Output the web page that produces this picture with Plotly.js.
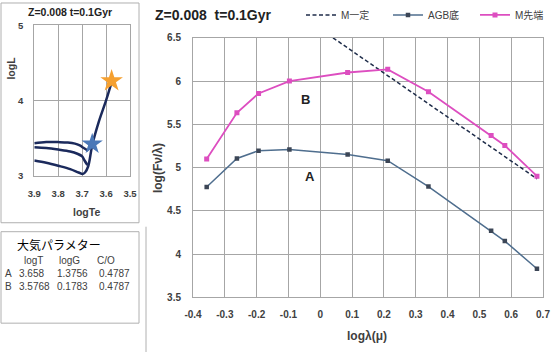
<!DOCTYPE html>
<html>
<head>
<meta charset="utf-8">
<script src="https://cdn.plot.ly/plotly-3.0.1.min.js"></script>
<style>html,body{margin:0;padding:0;background:#fff;}#chart{width:560px;height:352px;}</style>
</head>
<body>
<div id="chart"></div>
<script>
// ---- main SED chart data ----
const logLambda = [-0.357, -0.262, -0.194, -0.097, 0.086, 0.212, 0.340, 0.537, 0.580, 0.681];
const agbBase   = [4.775, 5.105, 5.195, 5.21, 5.152, 5.08, 4.78, 4.27, 4.15, 3.83];
const mTip      = [5.10, 5.633, 5.857, 6.0, 6.099, 6.135, 5.877, 5.37, 5.255, 4.90];
const mConstX   = [0.04, 0.681];
const mConstY   = [6.5, 4.87];
const seriesNames = ['M一定', 'AGB底', 'M先端'];
const xTickVals = [-0.4,-0.3,-0.2,-0.1,0,0.1,0.2,0.3,0.4,0.5,0.6,0.7];
const yTickVals = [3.5,4,4.5,5,5.5,6,6.5];

// ---- inset HR diagram data ----
const track1Te = [3.9, 3.85, 3.80, 3.76, 3.73, 3.71, 3.695, 3.675];
const track1L  = [3.43, 3.445, 3.445, 3.44, 3.425, 3.40, 3.37, 3.33];
const track2Te = [3.9, 3.85, 3.80, 3.75, 3.72, 3.70, 3.69, 3.678];
const track2L  = [3.375, 3.365, 3.345, 3.32, 3.29, 3.255, 3.20, 3.14];
const track3Te = [3.9, 3.85, 3.80, 3.75, 3.715, 3.698, 3.688, 3.675, 3.658, 3.63, 3.60, 3.577];
const track3L  = [3.20, 3.17, 3.13, 3.085, 3.04, 3.02, 3.04, 3.12, 3.40, 3.72, 4.00, 4.24];
const starA = {Te: [3.658], L: [3.42]};
const starB = {Te: [3.5768], L: [4.26]};

// ---- table ----
const tableTitle = '大気パラメター';
const tableHeader = ['logT', 'logG', 'C/O'];
const rowLabels = ['A', 'B'];
const rowLogT = ['3.658', '3.5768'];
const rowLogG = ['1.3756', '0.1783'];
const rowCO   = ['0.4787', '0.4787'];

const W = 560, H = 352;
const px = v => v / W;
const py = v => 1 - v / H;
const FONT = 'Liberation Sans, Noto Sans CJK JP, sans-serif';
const TXT = '#404040';
const GRID = '#a6a6a6';
const NAVY = '#1b2a5c';

const traces = [
  {x: mConstX, y: mConstY, name: seriesNames[0], mode: 'lines', type: 'scatter', legend: 'legend',
   line: {color: '#1f2d4a', width: 1.5, dash: '4px,2.5px'}, xaxis: 'x', yaxis: 'y'},
  {x: logLambda, y: agbBase, name: seriesNames[1], mode: 'lines+markers', type: 'scatter', legend: 'legend2',
   line: {color: '#4f6e8e', width: 1.5}, marker: {symbol: 'square', size: 4.5, color: '#3c4656'},
   xaxis: 'x', yaxis: 'y'},
  {x: logLambda, y: mTip, name: seriesNames[2], mode: 'lines+markers', type: 'scatter', legend: 'legend3',
   line: {color: '#dd4ec0', width: 1.8}, marker: {symbol: 'square', size: 5, color: '#dd4ec0'},
   xaxis: 'x', yaxis: 'y'},
  {x: track1Te, y: track1L, mode: 'lines', type: 'scatter', showlegend: false,
   line: {color: NAVY, width: 2.5, shape: 'spline'}, xaxis: 'x2', yaxis: 'y2'},
  {x: track2Te, y: track2L, mode: 'lines', type: 'scatter', showlegend: false,
   line: {color: NAVY, width: 2.5, shape: 'spline'}, xaxis: 'x2', yaxis: 'y2'},
  {x: track3Te, y: track3L, mode: 'lines', type: 'scatter', showlegend: false,
   line: {color: NAVY, width: 2.5, shape: 'spline'}, xaxis: 'x2', yaxis: 'y2'},
  {x: starA.Te, y: starA.L, mode: 'markers', type: 'scatter', showlegend: false,
   marker: {symbol: 'star', size: 16, color: '#4a78b8', line: {width: 0}}, xaxis: 'x2', yaxis: 'y2'},
  {x: starB.Te, y: starB.L, mode: 'markers', type: 'scatter', showlegend: false,
   marker: {symbol: 'star', size: 17, color: '#f5a030', line: {width: 0}}, xaxis: 'x2', yaxis: 'y2'}
];

const tickFont = {family: FONT, size: 10, color: TXT, weight: 'bold'};
const ann = [];
function A(text, x, y, opt) {
  ann.push(Object.assign({text: text, x: px(x), y: py(y), xref: 'paper', yref: 'paper',
    showarrow: false, xanchor: 'center', yanchor: 'middle',
    font: {family: FONT, size: 10, color: TXT}}, opt || {}));
}
// inset texts
A('Z=0.008 t=0.1Gyr', 70, 10, {font: {family: FONT, size: 10.5, color: '#222', weight: 'bold'}});
A('logL', 11, 67, {textangle: -90, font: {family: FONT, size: 10.5, color: TXT, weight: 'bold'}});
A('logTe', 86, 211, {font: {family: FONT, size: 10.5, color: TXT, weight: 'bold'}});
// table texts
A(tableTitle, 15, 245, {xanchor: 'left', font: {family: FONT, size: 12, color: '#000'}});
const colX = [33, 69, 106];
tableHeader.forEach((t, i) => A(t, colX[i], 260));
rowLabels.forEach((r, j) => {
  const yy = 273 + j * 13.5;
  A(r, 8, yy);
  A(rowLogT[j], 17, yy, {xanchor: 'left'});
  A(rowLogG[j], 55, yy, {xanchor: 'left'});
  A(rowCO[j], 97, yy, {xanchor: 'left'});
});
// main chart texts
A('B', 305, 98, {font: {family: FONT, size: 13, color: '#222', weight: 'bold'}});
A('A', 310, 175, {font: {family: FONT, size: 13, color: '#222', weight: 'bold'}});
A('log(Fν/λ)', 158, 167, {textangle: -90, font: {family: FONT, size: 12, color: TXT, weight: 'bold'}});
A('logλ(μ)', 367, 336, {font: {family: FONT, size: 12, color: TXT, weight: 'bold'}});

const shapes = [
  {type: 'rect', xref: 'paper', yref: 'paper', x0: px(1), x1: px(139), y0: py(222), y1: py(1),
   line: {color: '#b0b0b0', width: 1}},
  {type: 'rect', xref: 'paper', yref: 'paper', x0: px(1), x1: px(139), y0: py(323), y1: py(231),
   line: {color: '#b0b0b0', width: 1}},
  {type: 'line', xref: 'paper', yref: 'paper', x0: px(146), x1: px(146), y0: py(352), y1: py(226),
   line: {color: '#b0b0b0', width: 1}}
];

const legBase = {orientation: 'h', xanchor: 'left', y: py(13), yanchor: 'middle',
  font: {family: FONT, size: 10, color: TXT}, bgcolor: 'rgba(0,0,0,0)', itemwidth: 30};

const layout = {
  width: W, height: H,
  margin: {l: 0, r: 0, t: 0, b: 0},
  paper_bgcolor: '#ffffff', plot_bgcolor: '#ffffff',
  font: {family: FONT, color: TXT},
  title: {text: 'Z=0.008  t=0.1Gyr', x: px(155), xanchor: 'left', xref: 'container',
          y: py(15.5), yanchor: 'middle', yref: 'container',
          font: {family: FONT, size: 14, color: '#222', weight: 'bold'}},
  showlegend: true,
  legend:  Object.assign({}, legBase, {x: px(301)}),
  legend2: Object.assign({}, legBase, {x: px(388)}),
  legend3: Object.assign({}, legBase, {x: px(475)}),
  xaxis: {domain: [px(193), px(543)], range: [-0.4, 0.7], tickvals: xTickVals,
          ticktext: xTickVals.map(v => String(v)),
          showgrid: true, gridcolor: GRID, gridwidth: 1, zeroline: false,
          showline: true, mirror: true, linecolor: GRID, linewidth: 1,
          ticks: '', ticklabelstandoff: 8, tickfont: tickFont, anchor: 'y', fixedrange: true},
  yaxis: {domain: [py(297), py(36)], range: [3.5, 6.5], tickvals: yTickVals,
          ticktext: yTickVals.map(v => String(v)),
          showgrid: true, gridcolor: GRID, gridwidth: 1, zeroline: false,
          showline: true, mirror: true, linecolor: GRID, linewidth: 1,
          ticks: '', ticklabelstandoff: 9, tickfont: tickFont, anchor: 'x', fixedrange: true},
  xaxis2: {domain: [px(34.3), px(130)], range: [3.9, 3.5], dtick: 0.1, tick0: 3.5,
           showgrid: true, gridcolor: GRID, zeroline: false,
           showline: true, mirror: true, linecolor: GRID,
           ticks: '', ticklabelstandoff: 9, tickfont: {family: FONT, size: 9.5, color: TXT, weight: 'bold'},
           anchor: 'y2', fixedrange: true},
  yaxis2: {domain: [py(174.5), py(23.5)], range: [3, 5], dtick: 1, tick0: 3,
           showgrid: true, gridcolor: GRID, zeroline: false,
           showline: true, mirror: true, linecolor: GRID,
           ticks: '', ticklabelstandoff: 8, tickfont: {family: FONT, size: 9.5, color: TXT, weight: 'bold'},
           anchor: 'x2', fixedrange: true},
  annotations: ann,
  shapes: shapes
};

Plotly.newPlot('chart', traces, layout, {displayModeBar: false, staticPlot: true});
</script>
</body>
</html>
